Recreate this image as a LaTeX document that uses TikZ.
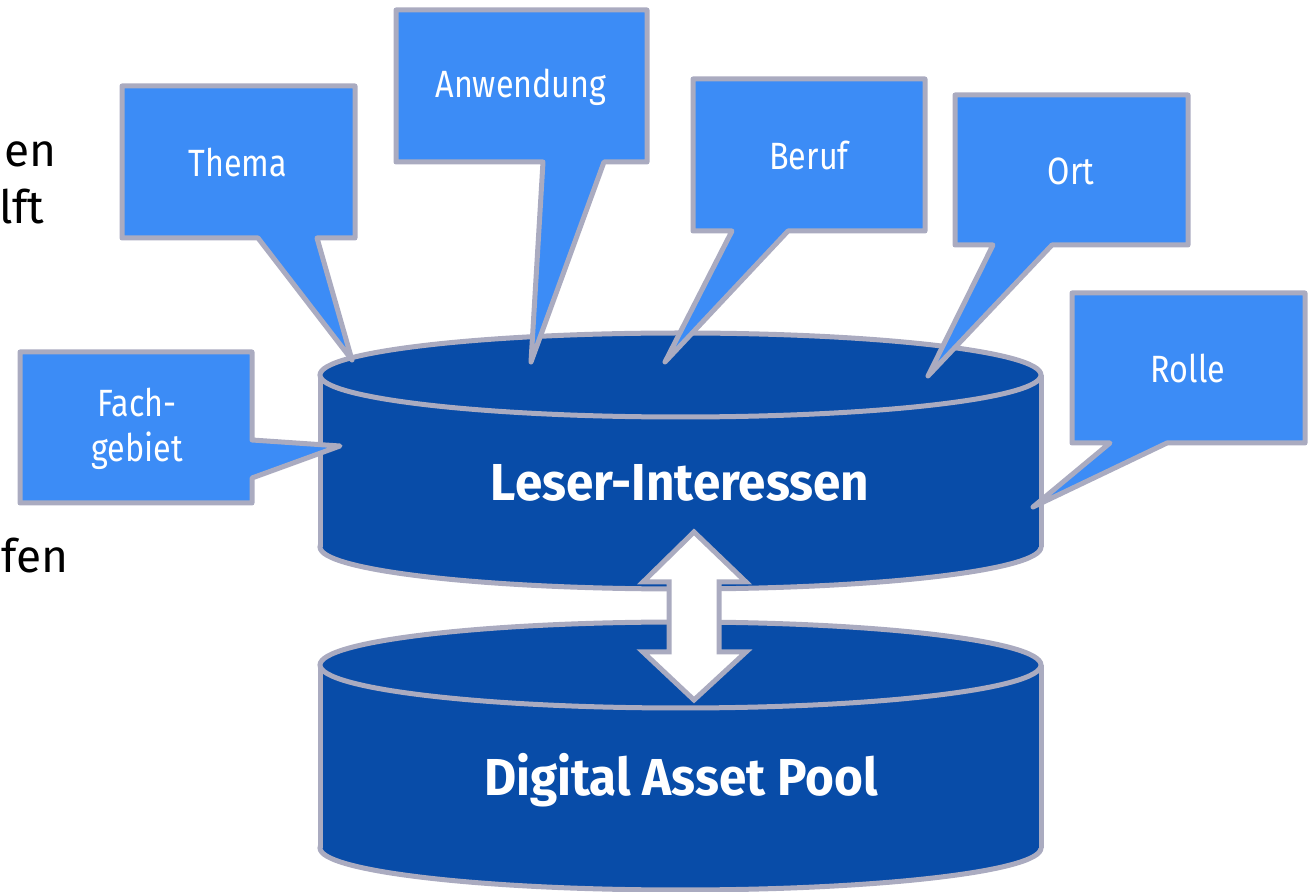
\documentclass[tikz,border=0pt]{standalone}
\usepackage{fontspec}
\setmainfont{Fira Sans}
\newfontfamily\calfont[FakeStretch=0.85]{Fira Sans}
\newfontfamily\ttlfont[FakeStretch=0.95]{Fira Sans}
\definecolor{darkblue}{RGB}{8,76,168}
\definecolor{lightblue}{RGB}{60,140,246}
\definecolor{rimgrey}{RGB}{170,171,192}
\tikzset{
  callout/.style={fill=lightblue, draw=rimgrey, line width=2.5pt, line join=round},
  caltext/.style={text=white, font=\calfont\fontsize{19pt}{22.5pt}\selectfont, align=center, inner sep=0pt},
  ttltext/.style={text=white, font=\ttlfont\bfseries\fontsize{26pt}{30pt}\selectfont, inner sep=0pt},
  cylface/.style={fill=darkblue, draw=rimgrey, line width=2.5pt},
  cylside/.style={draw=rimgrey, line width=2.5pt},
  frag/.style={text=black, font=\fontsize{23pt}{27pt}\selectfont, inner sep=0pt, anchor=base east},
  dblarrow/.style={fill=white, draw=rimgrey, line width=2.5pt, line join=miter}
}
\begin{document}
\begin{tikzpicture}[x=0.5pt,y=-0.5pt]
\useasboundingbox (0,0) rectangle (1314,892);
\begin{scope}
\clip (0,0) rectangle (1314,892);
% text fragments at the left edge
\node[frag] (fragA) at (57,167) {en};
\node[frag] (fragB) at (45,224) {lft};
\node[frag, anchor=base west] (fragC) at (1,573) {fen};

% lower cylinder: Digital Asset Pool
\draw[cylface] (680.5,848) ellipse[x radius=360.5, y radius=42];
\fill[darkblue] (320,665) rectangle (1041,848);
\draw[cylside] (320,665) -- (320,848);
\draw[cylside] (1041,665) -- (1041,848);
\draw[cylface] (680.5,665) ellipse[x radius=360.5, y radius=43];
\node[ttltext] (pool) at (681,780) {Digital Asset Pool};

% upper cylinder: Leser-Interessen
\draw[cylface] (680.5,547) ellipse[x radius=360.5, y radius=42];
\fill[darkblue] (320,375) rectangle (1041,547);
\draw[cylside] (320,375) -- (320,547);
\draw[cylside] (1041,375) -- (1041,547);
\draw[cylface] (680.5,375) ellipse[x radius=360.5, y radius=42];
\node[ttltext] (leser) at (680,483) {Leser-Interessen};

% double arrow between the two pools
\draw[dblarrow] (694,532) -- (746,582) -- (719,582) -- (719,652) -- (746,652)
  -- (694,700) -- (643,652) -- (669,652) -- (669,582) -- (643,582) -- cycle;

% callouts
\draw[callout] (122,86) -- (355,86) -- (355,238) -- (317,238) -- (352,360)
  -- (258,238) -- (122,238) -- cycle;
\node[caltext] (thema) at (238,163) {Thema};

\draw[callout] (396,10) -- (647,10) -- (647,162) -- (604,162) -- (531,362)
  -- (543,162) -- (396,162) -- cycle;
\node[caltext] (anw) at (521,87) {Anwendung};

\draw[callout] (693,79) -- (925,79) -- (925,231) -- (788,231) -- (665,362)
  -- (732,231) -- (693,231) -- cycle;
\node[caltext] (beruf) at (809,155) {Beruf};

\draw[callout] (955,95) -- (1188,95) -- (1188,245) -- (1052,245) -- (928,376)
  -- (993,245) -- (955,245) -- cycle;
\node[caltext] (ort) at (1071,171) {Ort};

\draw[callout] (1072,293) -- (1305,293) -- (1305,443) -- (1167,443) -- (1033,507)
  -- (1110,443) -- (1072,443) -- cycle;
\node[caltext] (rolle) at (1188,368) {Rolle};

\draw[callout] (20,352) -- (252,352) -- (252,440) -- (340,446) -- (252,478)
  -- (252,503) -- (20,503) -- cycle;
\node[caltext] (fach) at (137,429) {Fach-\\gebiet};
\end{scope}
\end{tikzpicture}
\end{document}
